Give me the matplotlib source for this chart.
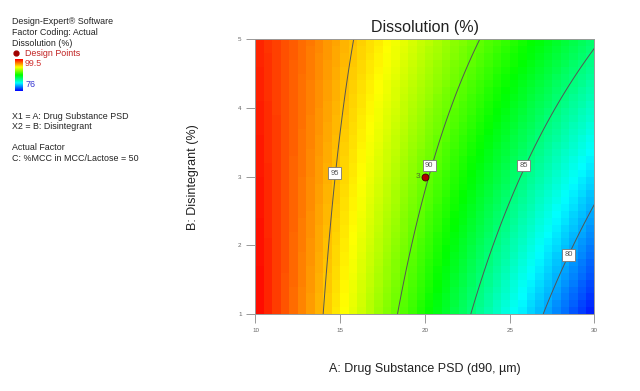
import numpy as np
import matplotlib
matplotlib.use("Agg")
import matplotlib.pyplot as plt
from matplotlib.colors import LinearSegmentedColormap

plt.rcParams['font.family'] = ['Liberation Sans', 'DejaVu Sans']

c95_x = [13.97, 14.24, 14.70, 15.39, 15.94]
c95_y = [1.00, 1.79, 3.05, 4.26, 5.00]
c90_x = [18.40, 18.97, 20.25, 21.85, 23.13]
c90_y = [1.00, 1.79, 3.16, 4.26, 5.00]
c85_x = [22.77, 23.74, 25.82, 28.35, 30.00]
c85_y = [1.00, 1.79, 3.16, 4.26, 4.87]
c80_x = [27.20, 28.52, 29.37, 30.00]
c80_y = [1.00, 1.86, 2.22, 2.56]
levels = [80, 85, 90, 95]
z_min, z_max = 76.0, 99.5
min_point = (30.0, 1.0)

# Design point
design_x = [20.0]
design_y = [3.0]
design_lbl = ["3"]

# label positions for contour labels
label_pos = {95: (14.66, 3.05), 90: (20.25, 3.16), 85: (25.82, 3.16), 80: (28.48, 1.86)}

# --- least squares quadratic response surface through read points
xs, ys, zs = [], [], []
for lv, cx, cy in [(95, c95_x, c95_y), (90, c90_x, c90_y), (85, c85_x, c85_y), (80, c80_x, c80_y)]:
    xs += cx; ys += cy; zs += [lv] * len(cx)
xs.append(min_point[0]); ys.append(min_point[1]); zs.append(z_min)
xs, ys, zs = map(np.array, (xs, ys, zs))

def design(x, y):
    return np.stack([np.ones_like(x), x, y, x * y, x ** 2, y ** 2], axis=-1)

coef, *_ = np.linalg.lstsq(design(xs, ys), zs, rcond=None)

def surf(x, y):
    return design(x, y) @ coef

cmap = LinearSegmentedColormap.from_list(
    "de", [(0, "#0000ff"), (0.25, "#00ffff"), (0.5, "#00ff00"), (0.75, "#ffff00"), (1.0, "#ff0000")])

fig = plt.figure(figsize=(6.4, 3.91), dpi=100)
ax = fig.add_axes([0.3992, 0.197, 0.5297, 0.7025])

xe = np.linspace(10, 30, 41)
ye = np.linspace(1, 5, 41)
xc = 0.5 * (xe[:-1] + xe[1:])
yc = 0.5 * (ye[:-1] + ye[1:])
XC, YC = np.meshgrid(xc, yc)
ax.pcolormesh(xe, ye, surf(XC, YC), cmap=cmap, vmin=z_min, vmax=z_max, shading='flat')

xf = np.linspace(10, 30, 300)
yf = np.linspace(1, 5, 200)
XF, YF = np.meshgrid(xf, yf)
cs = ax.contour(XF, YF, surf(XF, YF), levels=levels, colors='#555555', linewidths=0.7)
for lv, (lx, ly) in label_pos.items():
    ax.text(lx, ly, str(lv), fontsize=5.5, color='#555555', ha='center', va='center',
            bbox=dict(boxstyle='square,pad=0.3', fc='white', ec='#777777', lw=0.6))

ax.plot(design_x, design_y, 'o', color='#b00000', mec='#400000', mew=0.6, ms=5, zorder=5)
for dx, dy, t in zip(design_x, design_y, design_lbl):
    ax.text(dx - 0.25, dy, t, fontsize=6, color='#556b2f', ha='right', va='center')

ax.set_xlim(10, 30)
ax.set_ylim(1, 5)
ax.set_xticks([10, 15, 20, 25, 30])
ax.set_yticks([1, 2, 3, 4, 5])
ax.tick_params(direction='out', length=6.5, width=0.6, colors='#888888', labelsize=4.5,
               labelcolor='#666666')
for s in ax.spines.values():
    s.set_color('#999999'); s.set_linewidth(0.7)

ax.set_title("Dissolution (%)", fontsize=11.5, color='#222222', pad=5)
ax.set_xlabel("A: Drug Substance PSD (d90, µm)", fontsize=9, color='#222222', labelpad=21.5)
ax.set_ylabel("B: Disintegrant (%)", fontsize=9, color='#222222', labelpad=28)

# left info block
W, H = 640, 391
def ftxt(px, py, s, color='#222222', size=6.4):
    fig.text(px / W, 1 - py / H, s, fontsize=size, color=color, ha='left', va='center')

ftxt(12, 22, "Design-Expert® Software")
ftxt(12, 32.3, "Factor Coding: Actual")
ftxt(12, 43, "Dissolution (%)")
fig.lines.append(plt.Line2D([16 / W], [1 - 53 / H], marker='o', color='#a00000', ms=3.5,
                            transform=fig.transFigure))
ftxt(25, 53, "Design Points", color='#c02020')
cax = fig.add_axes([14.7 / W, 1 - 90.7 / H, 7.3 / W, 32 / H])
cax.imshow(np.linspace(1, 0, 100)[:, None], aspect='auto', cmap=cmap, vmin=0, vmax=1)
cax.set_xticks([]); cax.set_yticks([])
for s in cax.spines.values():
    s.set_visible(False)
ftxt(25, 63, "99.5", color='#d03030')
ftxt(25, 84.7, "76", color='#3030d0')
ftxt(12, 116.7, "X1 = A: Drug Substance PSD")
ftxt(12, 126.7, "X2 = B: Disintegrant")
ftxt(12, 147.7, "Actual Factor")
ftxt(12, 158.3, "C: %MCC in MCC/Lactose = 50")

fig.savefig("out.png", dpi=100)
